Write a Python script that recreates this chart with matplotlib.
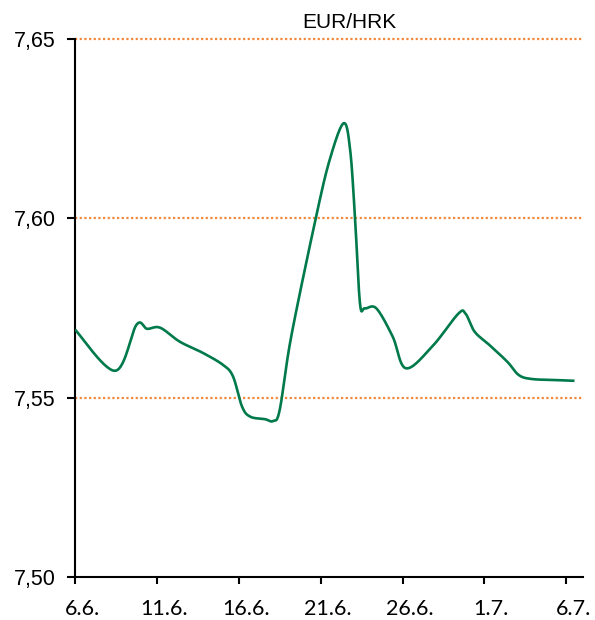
import numpy as np
import matplotlib
matplotlib.use("Agg")
import matplotlib.pyplot as plt
from matplotlib.transforms import ScaledTranslation

# Data: day offsets from 6.6. and EUR/HRK values
days = [0.0, 2.45, 3.75, 4.4, 5.2, 6.4, 7.8, 9.05, 9.65, 10.2, 10.7, 11.6,
        12.1, 12.5, 13.2, 14.7, 15.55, 16.4, 16.8, 17.1, 17.4, 17.7, 18.4, 19.4,
        20.2, 21.8, 23.4, 23.85, 24.4, 25.3, 26.4, 27.1, 27.9, 29.4, 30.5]
rates = [7.5690, 7.5575, 7.5703, 7.5692, 7.5695, 7.5656, 7.5625, 7.5591,
         7.5559, 7.5475, 7.5447, 7.5440, 7.5435, 7.5466, 7.5670, 7.6000, 7.6163,
         7.6265, 7.6191, 7.6000, 7.5763, 7.5749, 7.5749, 7.5670, 7.5582, 7.5642,
         7.5734, 7.5734, 7.5684, 7.5647, 7.5600, 7.5563, 7.5552, 7.5549, 7.5547]
xtick_pos = [0, 5, 10, 15, 20, 25, 30]
xtick_labels = ["6.6.", "11.6.", "16.6.", "21.6.", "26.6.", "1.7.", "6.7."]
ytick_pos = [7.50, 7.55, 7.60, 7.65]
ytick_labels = ["7,50", "7,55", "7,60", "7,65"]
title = "EUR/HRK"


def smooth(x, y, n=30):
    # Excel-like smoothed line: cubic Bezier with Catmull-Rom control points
    p = np.column_stack([x, y]).astype(float)
    pts = [p[0]]
    t = np.linspace(0, 1, n)[1:, None]
    for i in range(len(p) - 1):
        p0 = p[i - 1] if i > 0 else p[i]
        p3 = p[i + 2] if i + 2 < len(p) else p[i + 1]
        c1 = p[i] + (p[i + 1] - p0) / 6.0
        c2 = p[i + 1] - (p3 - p[i]) / 6.0
        seg = ((1 - t) ** 3) * p[i] + 3 * ((1 - t) ** 2) * t * c1 \
            + 3 * (1 - t) * t ** 2 * c2 + t ** 3 * p[i + 1]
        pts.extend(seg)
    pts = np.array(pts)
    return pts[:, 0], pts[:, 1]


fig = plt.figure(figsize=(5.95, 6.2), dpi=100)
ax = fig.add_axes([75 / 595, 1 - 577 / 620, (582.7 - 75) / 595, (577 - 39) / 620])

for v in ytick_pos[1:]:
    ax.axhline(v, color="#F3883A", lw=1.6, linestyle=(0, (1.0, 1.1)), zorder=1,
               clip_on=False)

sx, sy = smooth(days, rates)
ax.plot(sx, sy, color="#007A4A", lw=1.9, zorder=3, solid_capstyle="butt")

ax.set_xlim(0, 31)
ax.set_ylim(7.50, 7.65)
ax.set_xticks(xtick_pos)
ax.set_xticklabels(xtick_labels, fontfamily="Lato", fontsize=15.5)
ax.set_yticks(ytick_pos)
ax.set_yticklabels(ytick_labels, fontfamily="Liberation Sans", fontsize=15.5)

for s in ["top", "right"]:
    ax.spines[s].set_visible(False)
for s in ["left", "bottom"]:
    ax.spines[s].set_linewidth(1.5)
    ax.spines[s].set_color("black")
    ax.spines[s].set_zorder(2)

ax.tick_params(axis="y", direction="out", length=6, width=1.5, pad=8)
ax.tick_params(axis="x", direction="out", length=5, width=1.5, pad=11)

offset = ScaledTranslation(7 / 100, 0, fig.dpi_scale_trans)
for lbl in ax.get_xticklabels():
    lbl.set_transform(lbl.get_transform() + offset)

fig.text(349 / 595, 1 - 22 / 620, title, ha="center", va="center",
         fontfamily="Liberation Sans", fontsize=15)

fig.savefig("out.png", dpi=100)
